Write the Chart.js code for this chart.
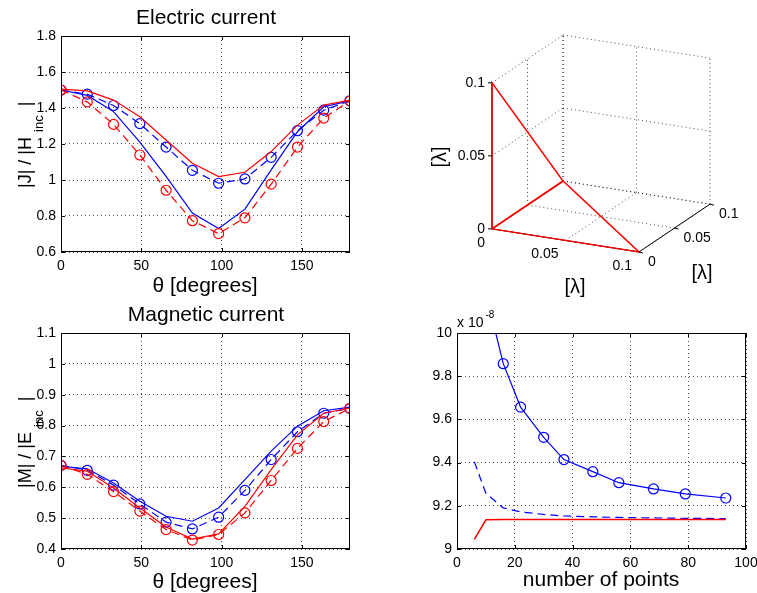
<!DOCTYPE html>
<html>
<head>
<meta charset="utf-8">
<script src="https://cdn.jsdelivr.net/npm/chart.js@4.4.1/dist/chart.umd.min.js"></script>
<style>
  html, body { margin: 0; padding: 0; background: #fff; }
  #fig { position: relative; width: 757px; height: 593px; overflow: hidden; background: #fff; }
  #fig canvas { position: absolute; left: 0; top: 0; }
</style>
</head>
<body>
<div id="fig">
  <canvas id="elec" width="757" height="593"></canvas>
  <canvas id="geom" width="757" height="593"></canvas>
  <canvas id="mag" width="757" height="593"></canvas>
  <canvas id="conv" width="757" height="593"></canvas>
</div>
<script>
// --- values ---
const theta = [0, 16.36, 32.73, 49.09, 65.45, 81.82, 98.18, 114.55, 130.91, 147.27, 163.64, 180];

// electric current |J|/|Hinc|
const elecBlueSolid = [1.50, 1.47, 1.38, 1.21, 1.02, 0.816, 0.731, 0.838, 1.056, 1.268, 1.407, 1.44];
const elecBlueCirc  = [1.50, 1.477, 1.414, 1.313, 1.183, 1.054, 0.982, 1.006, 1.126, 1.274, 1.388, 1.44];
const elecRedSolid  = [1.505, 1.495, 1.444, 1.351, 1.222, 1.093, 1.019, 1.043, 1.158, 1.305, 1.416, 1.444];
const elecRedCirc   = [1.50, 1.434, 1.309, 1.139, 0.943, 0.774, 0.702, 0.79, 0.977, 1.183, 1.344, 1.44];

// magnetic current |M|/|Einc|
const magBlueSolid = [0.668, 0.66, 0.614, 0.555, 0.506, 0.49, 0.533, 0.625, 0.717, 0.798, 0.848, 0.86];
const magBlueCirc  = [0.671, 0.655, 0.607, 0.546, 0.487, 0.465, 0.503, 0.59, 0.69, 0.78, 0.84, 0.856];
const magRedSolid  = [0.663, 0.652, 0.598, 0.533, 0.471, 0.432, 0.449, 0.538, 0.657, 0.77, 0.84, 0.857];
const magRedCirc   = [0.671, 0.642, 0.586, 0.523, 0.463, 0.429, 0.447, 0.517, 0.622, 0.726, 0.813, 0.856];

// convergence (x 1e-8)
const nPoints = [6, 10, 16, 22, 30, 37, 47, 56, 68, 79, 93];
const convBlueSolid = [null, 10.186, 9.858, 9.657, 9.517, 9.414, 9.358, 9.307, 9.278, 9.255, 9.236];
const convBlueDash  = [9.404, 9.258, 9.19, 9.172, 9.16, 9.153, 9.149, 9.146, 9.144, 9.142, 9.141];
const convRed       = [9.045, 9.135, 9.136, 9.136, 9.136, 9.136, 9.136, 9.136, 9.136, 9.136, 9.136];

// 3D geometry: two triangular patches and the grid ticks
const gridTicks3d = [0, 0.05, 0.1];
const patchA = [[0, 0, 0], [0, 0, 0.1], [0, 0.1, 0], [0, 0, 0]];
const patchB = [[0, 0, 0], [0, 0.1, 0], [0.1, 0, 0], [0, 0, 0]];

// --- styling ---
const FONT = "'Liberation Sans', Arial, Helvetica, sans-serif";
const BLUE = '#0000ff', RED = '#ff0000';
const GRID = 'rgba(0,0,0,0.7)';
const W = 757, H = 593;

function pts(xs, ys) { return xs.map((x, i) => ({ x: x, y: ys[i] })); }

function series(xs, ys, color, dashed, markers, width) {
  return {
    data: pts(xs, ys),
    showLine: true,
    borderColor: color,
    backgroundColor: 'rgba(0,0,0,0)',
    borderWidth: width || 1.2,
    borderDash: dashed ? [8, 5] : [],
    pointRadius: markers ? 5 : 0,
    pointHoverRadius: 0,
    pointBorderColor: color,
    pointBackgroundColor: 'rgba(0,0,0,0)',
    pointBorderWidth: 1.2,
    tension: 0,
    spanGaps: false
  };
}

function axis(min, max, step, isX) {
  return {
    type: 'linear',
    min: min, max: max,
    ticks: {
      stepSize: step, includeBounds: false, autoSkip: false, maxRotation: 0,
      color: '#000', font: { family: FONT, size: 14 }, padding: isX ? 6 : 5,
      callback: v => String(parseFloat(v.toFixed(3)))
    },
    grid: { color: GRID, lineWidth: 1, drawTicks: false },
    border: { display: false, dash: [1, 3] },
    afterFit: s => {
      if (isX) { s.height = 30; s.paddingLeft = 0; s.paddingRight = 0; }
      else { s.width = 50; s.paddingTop = 0; s.paddingBottom = 0; }
    }
  };
}

// box round the plot area, with inward ticks like matlab
const boxPlugin = {
  id: 'box',
  afterDraw(chart) {
    const { ctx, chartArea: a, scales } = chart;
    ctx.save();
    ctx.strokeStyle = '#000';
    ctx.lineWidth = 1;
    ctx.strokeRect(a.left + 0.5, a.top + 0.5, a.right - a.left - 1, a.bottom - a.top - 1);
    ctx.beginPath();
    scales.x.ticks.forEach(t => {
      const px = Math.round(scales.x.getPixelForValue(t.value)) + 0.5;
      ctx.moveTo(px, a.bottom); ctx.lineTo(px, a.bottom - 4);
      ctx.moveTo(px, a.top); ctx.lineTo(px, a.top + 4);
    });
    scales.y.ticks.forEach(t => {
      const py = Math.round(scales.y.getPixelForValue(t.value)) + 0.5;
      ctx.moveTo(a.left, py); ctx.lineTo(a.left + 4, py);
      ctx.moveTo(a.right, py); ctx.lineTo(a.right - 4, py);
    });
    ctx.stroke();
    ctx.restore();
  }
};

// title, xlabel and a rotated ylabel with a subscript
function labelsPlugin(t) {
  return {
    id: 'labels',
    afterDraw(chart) {
      const ctx = chart.ctx;
      ctx.save();
      ctx.fillStyle = '#000';
      ctx.textBaseline = 'alphabetic';
      ctx.textAlign = 'center';
      ctx.font = '21px ' + FONT;
      if (t.title) ctx.fillText(t.title, t.titleX, t.titleY);
      if (t.xlabel) ctx.fillText(t.xlabel, t.xlabelX, t.xlabelY);
      if (t.ylabel) {
        const [main, sub, tail] = t.ylabel;
        ctx.translate(t.ylabelX, t.ylabelY);
        ctx.rotate(-Math.PI / 2);
        ctx.textAlign = 'left';
        ctx.font = '18px ' + FONT;
        const w1 = ctx.measureText(main).width;
        ctx.fillText(main, 0, 0);
        ctx.font = '13px ' + FONT;
        const w2 = ctx.measureText(sub).width;
        ctx.fillText(sub, w1 + 5, 12);
        ctx.font = '18px ' + FONT;
        ctx.fillText(tail, w1 + 5 + w2 + 9, 0);
      }
      if (t.exponent) {
        ctx.setTransform(1, 0, 0, 1, 0, 0);
        ctx.textAlign = 'left';
        ctx.font = '14px ' + FONT;
        ctx.fillText('x 10', t.expX, t.expY);
        const w = ctx.measureText('x 10').width;
        ctx.font = '10px ' + FONT;
        ctx.fillText(t.exponent, t.expX + w + 2, t.expY - 9);
      }
      ctx.restore();
    }
  };
}

function plot2d(id, area, xs, xRange, yRange, datasets, texts) {
  return new Chart(document.getElementById(id), {
    type: 'scatter',
    data: { datasets: datasets },
    options: {
      responsive: false, animation: false, events: [],
      layout: { padding: { left: area[0] - 50, right: W - area[1], top: area[2], bottom: H - area[3] - 30 } },
      plugins: { legend: { display: false }, tooltip: { enabled: false } },
      scales: { x: axis(xRange[0], xRange[1], xRange[2], true), y: axis(yRange[0], yRange[1], yRange[2], false) }
    },
    plugins: [boxPlugin, labelsPlugin(texts)]
  });
}

// --- electric current ---
plot2d('elec', [61, 350, 36, 252], theta, [0, 180, 50], [0.6, 1.8, 0.2], [
  series(theta, elecRedCirc, RED, true, true),
  series(theta, elecRedSolid, RED, false, false),
  series(theta, elecBlueCirc, BLUE, true, true),
  series(theta, elecBlueSolid, BLUE, false, false)
], { title: 'Electric current', titleX: 206, titleY: 24, xlabel: 'θ [degrees]', xlabelX: 205, xlabelY: 292,
     ylabel: ['|J| / |H', 'inc', '|'], ylabelX: 31, ylabelY: 188 });

// --- magnetic current ---
plot2d('mag', [61, 350, 333, 549], theta, [0, 180, 50], [0.4, 1.1, 0.1], [
  series(theta, magRedCirc, RED, true, true),
  series(theta, magRedSolid, RED, false, false),
  series(theta, magBlueCirc, BLUE, true, true),
  series(theta, magBlueSolid, BLUE, false, false)
], { title: 'Magnetic current', titleX: 206, titleY: 321, xlabel: 'θ [degrees]', xlabelX: 205, xlabelY: 588,
     ylabel: ['|M| / |E', 'inc', '|'], ylabelX: 31, ylabelY: 488 });

// --- convergence ---
plot2d('conv', [457, 746, 333, 549], nPoints, [0, 100, 20], [9, 10, 0.2], [
  series(nPoints, convRed, RED, false, false, 1.5),
  series(nPoints, convBlueSolid, BLUE, false, true),
  series(nPoints, convBlueDash, BLUE, true, false)
], { xlabel: 'number of points', xlabelX: 601, xlabelY: 586, exponent: '-8', expX: 457, expY: 327 });

// --- 3D patch view (az/el projection onto a scatter chart) ---
const AZ = 25.8 * Math.PI / 180, EL = 20 * Math.PI / 180;
function project(p) {
  return {
    x: Math.cos(AZ) * p[0] + Math.sin(AZ) * p[1],
    y: -Math.sin(EL) * Math.sin(AZ) * p[0] + Math.sin(EL) * Math.cos(AZ) * p[1] + Math.cos(EL) * p[2]
  };
}
const lo = gridTicks3d[0], hi = gridTicks3d[gridTicks3d.length - 1];
const corners = [];
[lo, hi].forEach(a => [lo, hi].forEach(b => [lo, hi].forEach(c => corners.push(project([a, b, c])))));
const uMin = Math.min(...corners.map(c => c.x)), uMax = Math.max(...corners.map(c => c.x));
const vMin = Math.min(...corners.map(c => c.y)), vMax = Math.max(...corners.map(c => c.y));

function seg3d(path, color, width, dash) {
  return {
    data: path.map(project), showLine: true, borderColor: color, borderWidth: width,
    borderDash: dash || [], pointRadius: 0, pointHoverRadius: 0, clip: false, tension: 0
  };
}

const geomSets = [seg3d(patchA, RED, 1.5), seg3d(patchB, RED, 1.5)];
// axis lines
geomSets.push(seg3d([[lo, lo, lo], [hi, lo, lo]], '#000', 1));
geomSets.push(seg3d([[hi, lo, lo], [hi, hi, lo]], '#000', 1));
geomSets.push(seg3d([[lo, lo, lo], [lo, lo, hi]], '#000', 1));
// dotted grid on the back planes
gridTicks3d.forEach(g => {
  geomSets.push(seg3d([[g, hi, lo], [g, hi, hi]], GRID, 1, [1, 3]));   // back wall verticals
  geomSets.push(seg3d([[lo, hi, g], [hi, hi, g]], GRID, 1, [1, 3]));   // back wall horizontals
  geomSets.push(seg3d([[lo, g, lo], [lo, g, hi]], GRID, 1, [1, 3]));   // left wall verticals
  geomSets.push(seg3d([[lo, lo, g], [lo, hi, g]], GRID, 1, [1, 3]));   // left wall horizontals
  geomSets.push(seg3d([[g, lo, lo], [g, hi, lo]], GRID, 1, [1, 3]));   // floor
  geomSets.push(seg3d([[lo, g, lo], [hi, g, lo]], GRID, 1, [1, 3]));   // floor
});

const fmt3 = v => String(parseFloat(v.toFixed(3)));
const ticks3dPlugin = {
  id: 'ticks3d',
  afterDraw(chart) {
    const { ctx, scales } = chart;
    const px = p => { const q = project(p); return [scales.x.getPixelForValue(q.x), scales.y.getPixelForValue(q.y)]; };
    ctx.save();
    ctx.fillStyle = '#000';
    ctx.strokeStyle = '#000';
    ctx.lineWidth = 1;
    ctx.font = '14px ' + FONT;
    ctx.textBaseline = 'middle';
    ctx.beginPath();
    gridTicks3d.forEach(g => {
      let [x, y] = px([lo, lo, g]);          // z axis
      ctx.textAlign = 'right';
      ctx.fillText(fmt3(g), x - 7, y);
      ctx.moveTo(x, y); ctx.lineTo(x - 4, y);
      [x, y] = px([g, lo, lo]);              // x axis
      ctx.fillText(fmt3(g), x - 7, y + 14);
      [x, y] = px([hi, g, lo]);              // y axis
      ctx.textAlign = 'left';
      ctx.fillText(fmt3(g), x + 9, y + 10);
      ctx.moveTo(x, y); ctx.lineTo(x + 4, y + 1);
    });
    ctx.stroke();
    ctx.font = '20px ' + FONT;
    ctx.textAlign = 'center';
    ctx.fillText('[λ]', 575, 287);
    ctx.fillText('[λ]', 702, 273);
    ctx.translate(440, 157);
    ctx.rotate(-Math.PI / 2);
    ctx.fillText('[λ]', 0, 0);
    ctx.restore();
  }
};

new Chart(document.getElementById('geom'), {
  type: 'scatter',
  data: { datasets: geomSets },
  options: {
    responsive: false, animation: false, events: [],
    layout: { padding: { left: 492, right: W - 710, top: 35, bottom: H - 252 } },
    plugins: { legend: { display: false }, tooltip: { enabled: false } },
    scales: {
      x: { type: 'linear', display: false, min: uMin, max: uMax },
      y: { type: 'linear', display: false, min: vMin, max: vMax }
    }
  },
  plugins: [ticks3dPlugin]
});
</script>
</body>
</html>
